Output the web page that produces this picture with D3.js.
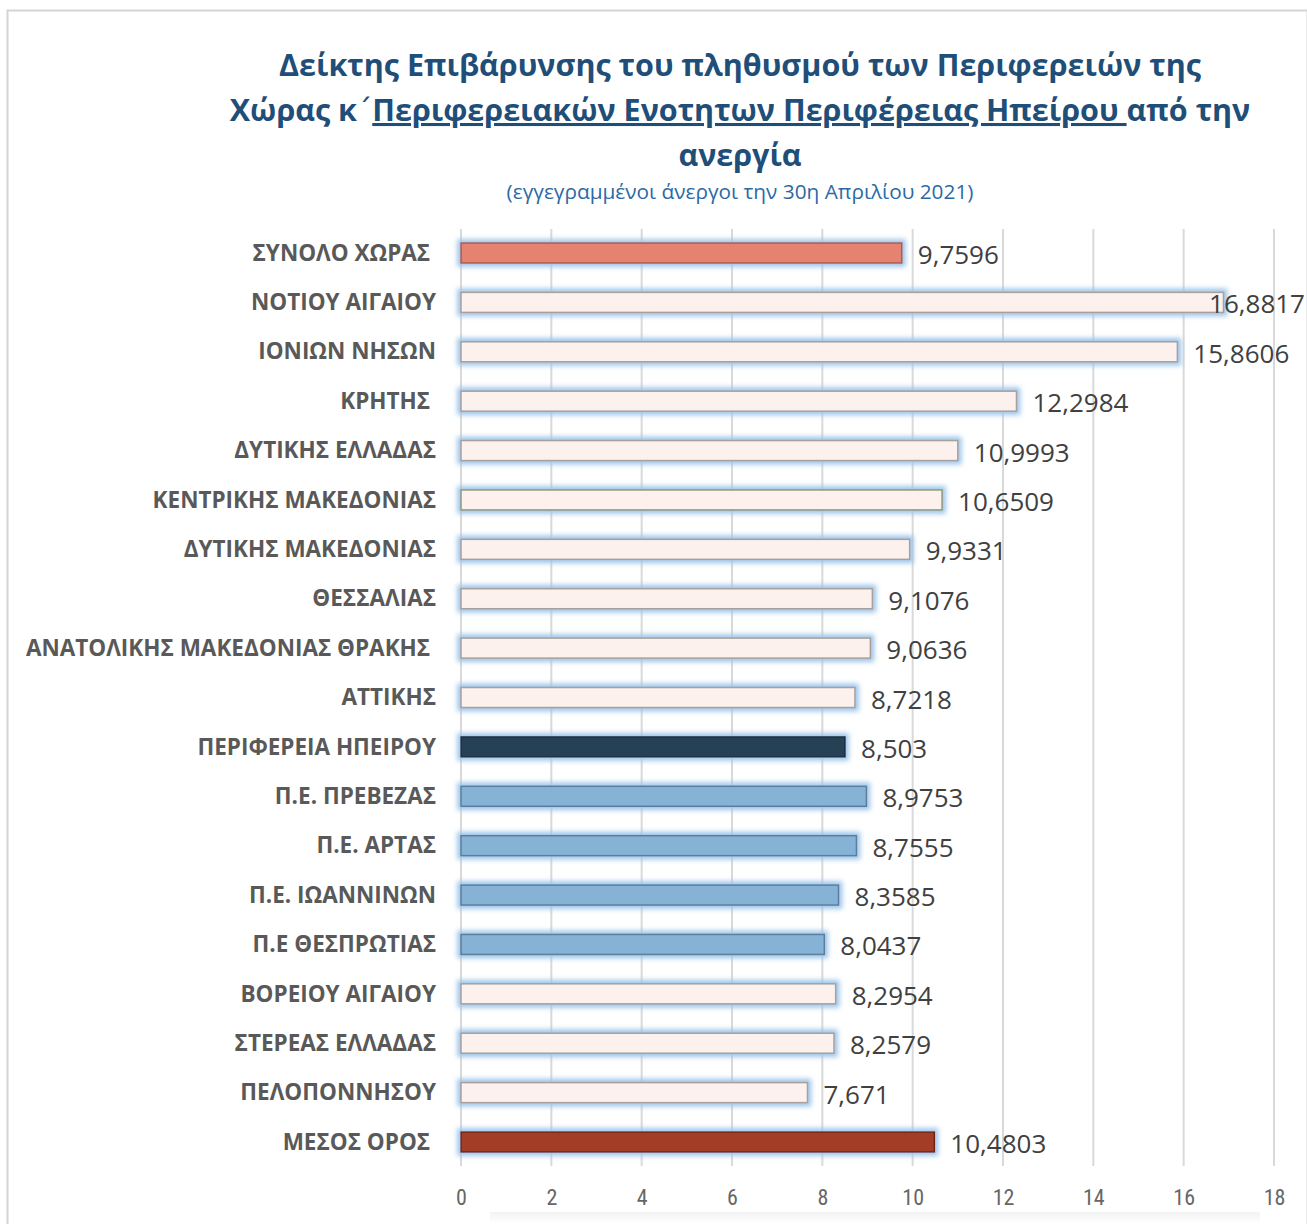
<!DOCTYPE html>
<html>
<head>
<meta charset="utf-8">
<script src="https://cdn.jsdelivr.net/npm/d3@7"></script>
<style>
  body { margin: 0; background: #fff; }
  svg text { white-space: pre; }
</style>
</head>
<body>
<div id="chart"></div>
<script>
// categories as they read on the chart (some keep a trailing space)
const categories = [
  "ΣΥΝΟΛΟ ΧΩΡΑΣ ",
  "ΝΟΤΙΟΥ ΑΙΓΑΙΟΥ",
  "ΙΟΝΙΩΝ ΝΗΣΩΝ",
  "ΚΡΗΤΗΣ ",
  "ΔΥΤΙΚΗΣ ΕΛΛΑΔΑΣ",
  "ΚΕΝΤΡΙΚΗΣ ΜΑΚΕΔΟΝΙΑΣ",
  "ΔΥΤΙΚΗΣ ΜΑΚΕΔΟΝΙΑΣ",
  "ΘΕΣΣΑΛΙΑΣ",
  "ΑΝΑΤΟΛΙΚΗΣ ΜΑΚΕΔΟΝΙΑΣ ΘΡΑΚΗΣ ",
  "ΑΤΤΙΚΗΣ",
  "ΠΕΡΙΦΕΡΕΙΑ ΗΠΕΙΡΟΥ",
  "Π.Ε. ΠΡΕΒΕΖΑΣ",
  "Π.Ε. ΑΡΤΑΣ",
  "Π.Ε. ΙΩΑΝΝΙΝΩΝ",
  "Π.Ε ΘΕΣΠΡΩΤΙΑΣ",
  "ΒΟΡΕΙΟΥ ΑΙΓΑΙΟΥ",
  "ΣΤΕΡΕΑΣ ΕΛΛΑΔΑΣ",
  "ΠΕΛΟΠΟΝΝΗΣΟΥ",
  "ΜΕΣΟΣ ΟΡΟΣ "
];
const values = [
  9.7596, 16.8817, 15.8606, 12.2984, 10.9993, 10.6509, 9.9331, 9.1076,
  9.0636, 8.7218, 8.503, 8.9753, 8.7555, 8.3585, 8.0437, 8.2954, 8.2579,
  7.671, 10.4803
];
// bar group per category: total, region, epirus, unit, mean
const groups = [
  "total", "region", "region", "region", "region", "region", "region",
  "region", "region", "region", "epirus", "unit", "unit", "unit", "unit",
  "region", "region", "region", "mean"
];
const xTicks = [0, 2, 4, 6, 8, 10, 12, 14, 16, 18];

const w = 1307;
const h = 1224;
const plotLeft = 461;
const plotRight = 1274;
const plotTop = 253;
const plotBottom = 1142;

const fills = {
  total: "#e5826f",
  region: "#fdf1ed",
  epirus: "#263f55",
  unit: "#86b2d6",
  mean: "#a33d26"
};
const strokes = {
  total: "#a85a4c",
  region: "#a8a09c",
  epirus: "#1a2c3c",
  unit: "#5b7e9c",
  mean: "#6e2414"
};

const svg = d3
  .select("#chart")
  .append("svg")
  .attr("width", w)
  .attr("height", h);

// soft blue glow round each bar
const defs = svg.append("defs");
const glow = defs
  .append("filter")
  .attr("id", "glow")
  .attr("x", "-5%")
  .attr("y", "-60%")
  .attr("width", "110%")
  .attr("height", "220%");
glow
  .append("feMorphology")
  .attr("in", "SourceAlpha")
  .attr("operator", "dilate")
  .attr("radius", 2.5)
  .attr("result", "dil");
glow
  .append("feGaussianBlur")
  .attr("in", "dil")
  .attr("stdDeviation", 2.5)
  .attr("result", "blur");
glow
  .append("feFlood")
  .attr("flood-color", "#9cc5ea")
  .attr("flood-opacity", 1);
glow.append("feComposite").attr("in2", "blur").attr("operator", "in").attr("result", "g");
const merge = glow.append("feMerge");
merge.append("feMergeNode").attr("in", "g");
merge.append("feMergeNode").attr("in", "SourceGraphic");

const shade = defs
  .append("linearGradient")
  .attr("id", "shade")
  .attr("x1", 0)
  .attr("x2", 0)
  .attr("y1", 0)
  .attr("y2", 1);
shade.append("stop").attr("offset", 0).attr("stop-color", "#f3f3f3");
shade.append("stop").attr("offset", 1).attr("stop-color", "#ffffff");

// chart frame
svg
  .append("rect")
  .attr("x", 7.5)
  .attr("y", 10.5)
  .attr("width", 1300)
  .attr("height", 1230)
  .attr("fill", "none")
  .attr("stroke", "#d4d4d4")
  .attr("stroke-width", 2);

// faint shadow at the foot
svg
  .append("rect")
  .attr("x", 490)
  .attr("y", 1212)
  .attr("width", 770)
  .attr("height", 12)
  .attr("fill", "url(#shade)");

// title
const title = svg
  .append("text")
  .attr("text-anchor", "middle")
  .attr("font-family", "'Open Sans', sans-serif")
  .attr("font-weight", 700)
  .attr("font-size", 30.5)
  .attr("fill", "#1f4e79");
title.append("tspan").attr("x", 740).attr("y", 76).text("Δείκτης Επιβάρυνσης του πληθυσμού των Περιφερειών της");
const line2 = title.append("tspan").attr("x", 740).attr("y", 121);
line2.append("tspan").text("Χώρας κ");
line2.append("tspan").attr("font-family", "'DejaVu Sans', sans-serif").attr("font-weight", 400).text("΄");
line2
  .append("tspan")
  .attr("text-decoration", "underline")
  .text("Περιφερειακών Ενοτητων Περιφέρειας Ηπείρου ");
line2.append("tspan").text("από την");
title.append("tspan").attr("x", 740).attr("y", 166).text("ανεργία");

svg
  .append("text")
  .attr("x", 740)
  .attr("y", 199)
  .attr("text-anchor", "middle")
  .attr("font-family", "'Open Sans', sans-serif")
  .attr("font-size", 20.8)
  .attr("fill", "#2b6aa6")
  .text("(εγγεγραμμένοι άνεργοι την 30η Απριλίου 2021)");

const xScale = d3.scaleLinear().domain([0, 18]).range([plotLeft, plotRight]);
const yScale = d3.scalePoint().domain(categories).range([plotTop, plotBottom]);

// gridlines
svg
  .append("g")
  .selectAll("line")
  .data(xTicks)
  .enter()
  .append("line")
  .attr("x1", (d) => xScale(d))
  .attr("x2", (d) => xScale(d))
  .attr("y1", 229)
  .attr("y2", 1166)
  .attr("stroke", "#d9d9d9")
  .attr("stroke-width", 2);

// x axis labels
const xAxis = d3.axisBottom(xScale).tickValues(xTicks).tickSize(0).tickPadding(0);
const xg = svg
  .append("g")
  .attr("transform", "translate(0," + 1189 + ")")
  .call(xAxis);
xg.select(".domain").remove();
xg.selectAll("text")
  .attr("font-family", "'Liberation Sans Narrow', 'Roboto Condensed', Roboto, sans-serif")
  .attr("font-size", 22)
  .attr("fill", "#666666");

// category labels
const yAxis = d3.axisLeft(yScale).tickSize(0).tickPadding(25);
const yg = svg
  .append("g")
  .attr("transform", "translate(" + plotLeft + ",0)")
  .call(yAxis);
yg.select(".domain").remove();
yg.selectAll("text")
  .attr("font-family", "'Open Sans', sans-serif")
  .attr("font-weight", 700)
  .attr("font-size", 22.5)
  .attr("fill", "#595959");

const barH = 20;
const rows = categories.map((c, i) => ({ c: c, v: values[i], g: groups[i] }));

svg
  .append("g")
  .selectAll("rect")
  .data(rows)
  .enter()
  .append("rect")
  .attr("x", xScale(0))
  .attr("y", (d) => yScale(d.c) - barH / 2)
  .attr("width", (d) => xScale(d.v) - xScale(0))
  .attr("height", barH)
  .attr("fill", (d) => fills[d.g])
  .attr("stroke", (d) => (d.c === "ΚΕΝΤΡΙΚΗΣ ΜΑΚΕΔΟΝΙΑΣ" ? "#8e9a78" : strokes[d.g]))
  .attr("stroke-width", 1.5)
  .attr("filter", "url(#glow)");

// value labels, kept inside the frame
const labels = svg
  .append("g")
  .selectAll("text")
  .data(rows)
  .enter()
  .append("text")
  .attr("y", (d) => yScale(d.c) + 11)
  .attr("font-family", "'Open Sans', sans-serif")
  .attr("font-size", 26)
  .attr("fill", "#404040")
  .text((d) => String(d.v).replace(".", ","));
labels.attr("x", function (d) {
  const tw = this.getComputedTextLength();
  return Math.min(xScale(d.v) + 16, w - 2 - tw);
});
</script>
</body>
</html>
